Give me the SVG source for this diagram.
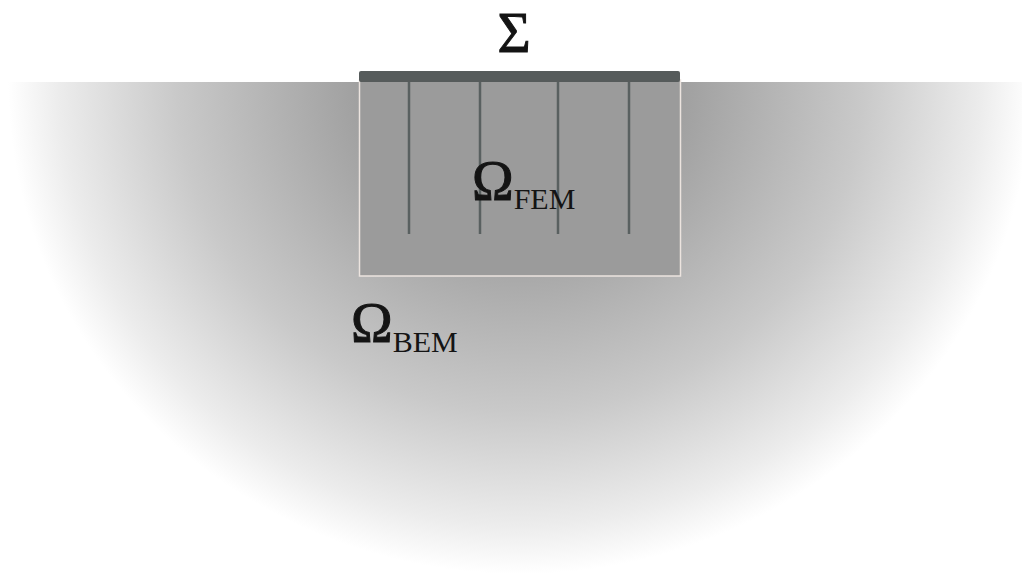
<svg xmlns="http://www.w3.org/2000/svg" width="1022" height="574" viewBox="0 0 1022 574">
<defs>
<radialGradient id="bg" gradientUnits="userSpaceOnUse" cx="0" cy="0" r="1" gradientTransform="translate(520 82) scale(512 492)">
<stop offset="0" stop-color="#7a7a7a"/>
<stop offset="0.3" stop-color="#9e9e9e"/>
<stop offset="0.67" stop-color="#c9c9c9"/>
<stop offset="0.9" stop-color="#ececec"/>
<stop offset="1" stop-color="#ffffff"/>
</radialGradient>
<style>
.lbl{font-family:"Liberation Serif","Times New Roman",serif;fill:#141414}
.big{stroke:#141414;stroke-width:1}
.pile{stroke:#596060;stroke-width:2.5}
</style>
</defs>
<rect width="1022" height="574" fill="#ffffff"/>
<g id="bem-domain">
<path d="M8,82 A512,492 0 0 0 1032,82 Z" fill="url(#bg)"/>
</g>
<g id="fem-domain">
<rect x="359.5" y="80" width="321" height="196" fill="#9b9b9b" stroke="#ece4df" stroke-width="1.5"/>
</g>
<g id="surface">
<rect x="359" y="71" width="321" height="11" rx="2" fill="#565b5b"/>
</g>
<g id="connectors">
<line class="pile" x1="409" y1="82" x2="409" y2="234"/>
<line class="pile" x1="480" y1="82" x2="480" y2="234"/>
<line class="pile" x1="558" y1="82" x2="558" y2="234"/>
<line class="pile" x1="629" y1="82" x2="629" y2="234"/>
</g>
<g id="labels">
<text class="lbl big" x="514" y="52" font-size="57" text-anchor="middle">Σ</text>
<text class="lbl" x="472" y="200" font-size="56"><tspan class="big">Ω</tspan><tspan font-size="30" dy="9">FEM</tspan></text>
<text class="lbl" x="351" y="342" font-size="56"><tspan class="big">Ω</tspan><tspan font-size="30" dy="10">BEM</tspan></text>
</g>
</svg>
